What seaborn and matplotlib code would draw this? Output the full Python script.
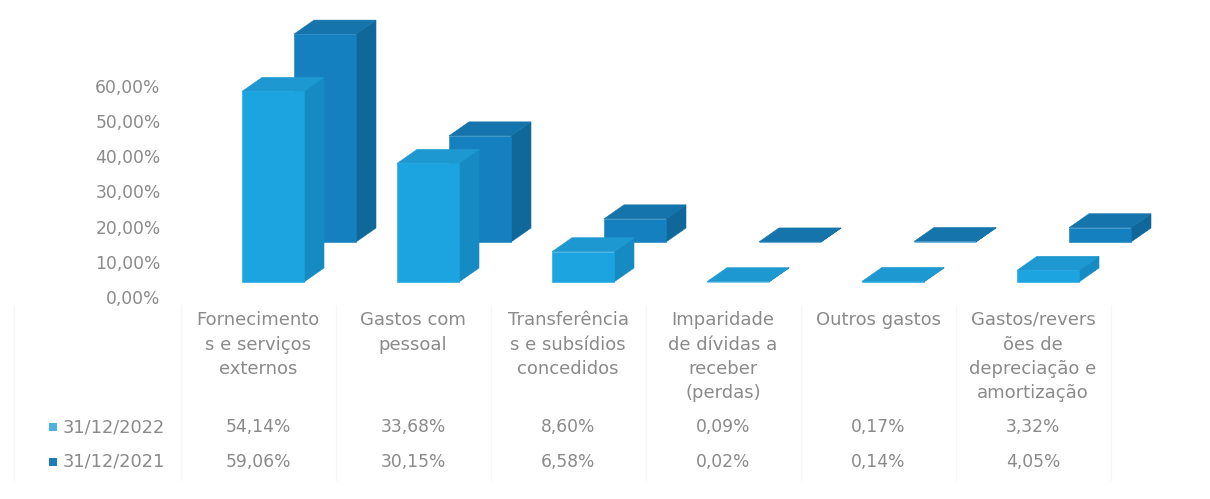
import numpy as np
import pandas as pd
import seaborn as sns
import matplotlib
matplotlib.use("Agg")
import matplotlib.pyplot as plt
from matplotlib.patches import Polygon, Rectangle
from matplotlib.transforms import blended_transform_factory

# ---- data -------------------------------------------------------------
categories = [
    "Fornecimento\ns e serviços\nexternos",
    "Gastos com\npessoal",
    "Transferência\ns e subsídios\nconcedidos",
    "Imparidade\nde dívidas a\nreceber\n(perdas)",
    "Outros gastos",
    "Gastos/revers\nões de\ndepreciação e\namortização",
]
series_labels = ["31/12/2022", "31/12/2021"]
values_2022 = [54.14, 33.68, 8.60, 0.09, 0.17, 3.32]
values_2021 = [59.06, 30.15, 6.58, 0.02, 0.14, 4.05]
y_ticks = [0, 10, 20, 30, 40, 50, 60]

# ---- styling ----------------------------------------------------------
sns.set_theme(style="white")
plt.rcParams["font.family"] = ["DejaVu Sans"]
TEXT = "#8a8a8a"
NUM_SIZE = 12.3
CAT_SIZE = 13.0

front_colors = {"face": "#1ba4df", "top": "#1d98d1", "side": "#168bc3"}
back_colors = {"face": "#1580bf", "top": "#1474ab", "side": "#0f6899"}
swatch_colors = ["#4db2e2", "#1a7db6"]

W, H = 1210, 499
fig = plt.figure(figsize=(W / 100, H / 100), dpi=100)
fig.patch.set_facecolor("white")


def fx(px):
    return px / W


def fy(row):
    return 1 - row / H


# axes geometry (pixel rows measured from the top)
ax_left, ax_right = 180, 1180
ax_top, ax_bottom = 0, 300
baseline_row = 282
first_center = 273
px_per_cat = 155.0
px_per_pct = 3.52

ax = fig.add_axes([fx(ax_left), fy(ax_bottom),
                   (ax_right - ax_left) / W, (ax_bottom - ax_top) / H])

df = pd.DataFrame({
    "categoria": categories * 2,
    "valor": values_2021 + values_2022,
    "serie": [series_labels[1]] * len(categories) + [series_labels[0]] * len(categories),
})

bar_width = 62 / px_per_cat
# back row (2021) first, then the front row (2022)
sns.barplot(data=df[df.serie == series_labels[1]], x="categoria", y="valor",
            color=back_colors["face"], saturation=1, width=bar_width,
            errorbar=None, ax=ax, order=categories)
sns.barplot(data=df[df.serie == series_labels[0]], x="categoria", y="valor",
            color=front_colors["face"], saturation=1, width=bar_width,
            errorbar=None, ax=ax, order=categories)

ax.set_xlim((ax_left - first_center) / px_per_cat, (ax_right - first_center) / px_per_cat)
ax.set_ylim(-(ax_bottom - baseline_row) / px_per_pct, (baseline_row - ax_top) / px_per_pct)

# 3-D box depth and row offset, converted from pixels to data units
depth_dx, depth_dy = 20 / px_per_cat, 14 / px_per_pct
row_dx, row_dy = 52 / px_per_cat, 40 / px_per_pct


def extrude(rect, colors, z):
    x, y0 = rect.get_x(), rect.get_y()
    w, h = rect.get_width(), rect.get_height()
    top = [(x, y0 + h), (x + w, y0 + h),
           (x + w + depth_dx, y0 + h + depth_dy), (x + depth_dx, y0 + h + depth_dy)]
    side = [(x + w, y0), (x + w + depth_dx, y0 + depth_dy),
            (x + w + depth_dx, y0 + h + depth_dy), (x + w, y0 + h)]
    for pts, key in ((side, "side"), (top, "top")):
        ax.add_patch(Polygon(pts, closed=True, facecolor=colors[key],
                             edgecolor=colors[key], linewidth=0.4,
                             zorder=z, clip_on=False))
    rect.set_edgecolor(colors["face"])
    rect.set_linewidth(0.4)
    rect.set_zorder(z + 0.5)
    rect.set_clip_on(False)


back_bars, front_bars = ax.containers[0], ax.containers[1]
for rect in back_bars:
    rect.set_x(rect.get_x() + row_dx)
    rect.set_y(rect.get_y() + row_dy)
    extrude(rect, back_colors, 2)
for rect in front_bars:
    extrude(rect, front_colors, 4)

# y tick labels sit slightly below the bar baseline
label_shift = 15 / px_per_pct
ax.set_yticks([t - label_shift for t in y_ticks])
ax.set_yticklabels([f"{t:.2f}".replace(".", ",") + "%" for t in y_ticks],
                   color=TEXT, fontsize=NUM_SIZE)
ax.tick_params(axis="y", length=0, pad=14)
ax.set_xticks([])
ax.set_xlabel("")
ax.set_ylabel("")
for s in ax.spines.values():
    s.set_visible(False)
ax.set_facecolor("none")

# ---- data table -------------------------------------------------------
tbl = blended_transform_factory(ax.transData, fig.transFigure)
col_shift = 15 / px_per_cat
line_step = 24.5
for i, cat in enumerate(categories):
    for k, line in enumerate(cat.split("\n")):
        fig.text(i - col_shift, fy(320 + k * line_step), line, transform=tbl,
                 ha="center", va="center", color=TEXT, fontsize=CAT_SIZE)

rows = [(series_labels[0], values_2022, 427, swatch_colors[0]),
        (series_labels[1], values_2021, 462, swatch_colors[1])]
for label, vals, row, sw in rows:
    fig.patches.append(Rectangle((fx(49), fy(row + 4)), 8 / W, 8 / H,
                                 transform=fig.transFigure, facecolor=sw,
                                 edgecolor="none"))
    fig.text(fx(63), fy(row), label, ha="left", va="center",
             color=TEXT, fontsize=NUM_SIZE + 0.5)
    for i, v in enumerate(vals):
        fig.text(i - col_shift, fy(row), f"{v:.2f}".replace(".", ",") + "%",
                 transform=tbl, ha="center", va="center",
                 color=TEXT, fontsize=NUM_SIZE)

# very faint table column rules
grid_c = "#f6f6f6"
for i in range(len(categories) + 1):
    xb = i - 0.5 - col_shift
    fig.add_artist(plt.Line2D([xb, xb], [fy(305), fy(480)], transform=tbl,
                              color=grid_c, linewidth=1))
fig.add_artist(plt.Line2D([fx(14), fx(14)], [fy(305), fy(480)],
                          transform=fig.transFigure, color=grid_c, linewidth=1))

fig.savefig("out.png", dpi=100, facecolor="white")
